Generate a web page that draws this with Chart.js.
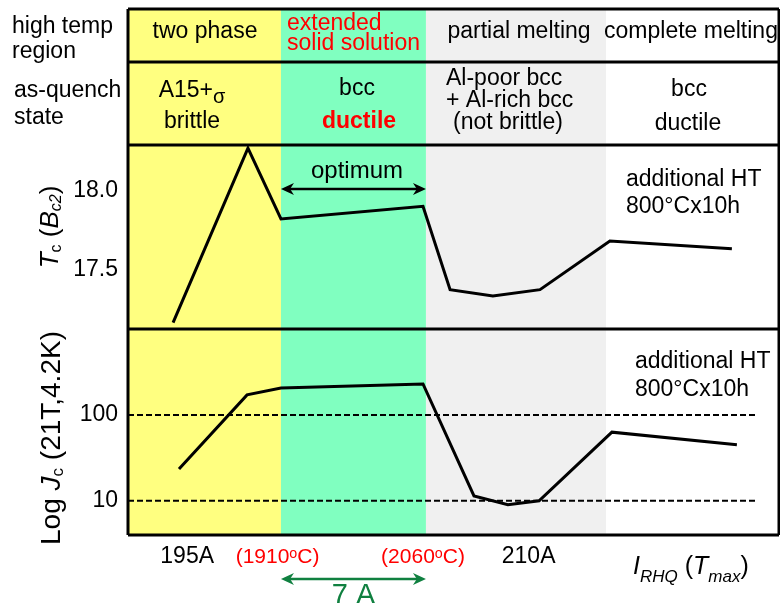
<!DOCTYPE html>
<html>
<head>
<meta charset="utf-8">
<script src="https://cdn.jsdelivr.net/npm/chart.js@4.4.1/dist/chart.umd.min.js"></script>
<style>
  html, body { margin: 0; padding: 0; background: #fff; }
</style>
</head>
<body>
<canvas id="rhq-chart" width="780" height="603"></canvas>
<script>
// RHQ current (A) for each sample, Tc in K, Jc (21T, 4.2K) on a log scale
const tcCurrent = [194.38, 197.67, 199.12, 205.36, 206.55, 208.43, 210.50, 213.57, 218.93];
const tcValues  = [17.16, 18.27, 17.82, 17.90, 17.37, 17.33, 17.37, 17.68, 17.63];
const jcCurrent = [194.64, 197.63, 199.12, 205.36, 207.60, 209.09, 210.46, 213.66, 219.15];
const jcValues  = [23.5, 171, 206, 229, 11.4, 9.0, 10.0, 63, 45];

// dashed reference levels in the Jc panel
const refLevels = [100, 10];
const refRange  = [192.4, 220.03];

const xTickValues = [195, 198.97, 205.36, 210];
const xTickLabels = ['195A', '(1910ᵒC)', '(2060ᵒC)', '210A'];
const tcTicks = [17.5, 18.0];
const jcTicks = [10, 100];

// region boundaries along the current axis
const bandEdges  = [192.4, 199.12, 205.49, 213.4, 221.0];
const bandColors = ['#ffff80', '#80ffc0', '#f0f0f0', '#ffffff'];

const FONT = "'Liberation Sans', Arial, sans-serif";
const f = (size, style) => (style || '') + ' ' + size + 'px ' + FONT;
Chart.defaults.font.family = FONT;
Chart.defaults.color = '#000';

const RED = '#ff0000';
const GREEN = '#108040';

function drawRuns(ctx, parts, x, y, align) {
  let total = 0;
  parts.forEach(p => { ctx.font = p.font; p.w = ctx.measureText(p.t).width; total += p.w; });
  let cx = align === 'center' ? x - total / 2 : x;
  parts.forEach(p => {
    ctx.font = p.font;
    ctx.fillStyle = p.color || '#000';
    ctx.fillText(p.t, cx, y + (p.dy || 0));
    cx += p.w;
  });
}

function text(ctx, t, x, y, font, align, color) {
  ctx.font = font;
  ctx.textAlign = align || 'left';
  ctx.fillStyle = color || '#000';
  ctx.fillText(t, x, y);
}

function arrow(ctx, x0, x1, y, color) {
  const hl = 13, hw = 6;
  ctx.save();
  ctx.strokeStyle = color; ctx.fillStyle = color; ctx.lineWidth = 2.5;
  ctx.beginPath(); ctx.moveTo(x0 + 6, y); ctx.lineTo(x1 - 6, y); ctx.stroke();
  [[x0, 1], [x1, -1]].forEach(([x, d]) => {
    ctx.beginPath();
    ctx.moveTo(x, y);
    ctx.lineTo(x + d * hl, y - hw);
    ctx.lineTo(x + d * hl * 0.7, y);
    ctx.lineTo(x + d * hl, y + hw);
    ctx.closePath();
    ctx.fill();
  });
  ctx.restore();
}

const framePlugin = {
  id: 'frame',
  beforeDraw(chart) {
    const ctx = chart.ctx, xs = chart.scales.x, area = chart.chartArea;
    ctx.save();
    ctx.fillStyle = '#fff';
    ctx.fillRect(0, 0, chart.width, chart.height);
    for (let i = 0; i < bandColors.length; i++) {
      const x0 = xs.getPixelForValue(bandEdges[i]);
      const x1 = Math.min(xs.getPixelForValue(bandEdges[i + 1]), area.right);
      ctx.fillStyle = bandColors[i];
      ctx.fillRect(x0, 9, x1 - x0, area.bottom - 9);
    }
    ctx.restore();
  },
  afterDraw(chart) {
    const ctx = chart.ctx, xs = chart.scales.x, yT = chart.scales.yTc, area = chart.chartArea;
    const edge = i => xs.getPixelForValue(bandEdges[i]);
    ctx.save();

    // frame lines
    ctx.strokeStyle = '#000';
    ctx.lineWidth = 3;
    [9, 62, area.top, yT.bottom, area.bottom].forEach(y => {
      ctx.beginPath(); ctx.moveTo(area.left, y); ctx.lineTo(area.right, y); ctx.stroke();
    });
    [area.left, area.right].forEach(x => {
      ctx.beginPath(); ctx.moveTo(x, 9); ctx.lineTo(x, area.bottom); ctx.stroke();
    });

    ctx.textBaseline = 'middle';
    const h = f(23);

    // row labels
    text(ctx, 'high temp', 12, 27, h);
    text(ctx, 'region', 12, 52, h);
    text(ctx, 'as-quench', 14, 91, h);
    text(ctx, 'state', 14, 118, h);

    // high temp region row
    text(ctx, 'two phase', 205, 32, h, 'center');
    text(ctx, 'extended', 287, 24, h, 'left', RED);
    text(ctx, 'solid solution', 287, 44, h, 'left', RED);
    text(ctx, 'partial melting', 519, 32, h, 'center');
    text(ctx, 'complete melting', 691, 32, h, 'center');

    // as-quench state row
    ctx.textAlign = 'left';
    drawRuns(ctx, [{ t: 'A15+', font: h }, { t: 'σ', font: f(20), dy: 6 }], 192, 91, 'center');
    text(ctx, 'brittle', 192, 122, h, 'center');
    text(ctx, 'bcc', 357, 89, h, 'center');
    text(ctx, 'ductile', 359, 122, f(23, 'bold'), 'center', RED);
    text(ctx, 'Al-poor bcc', 446, 79, h);
    text(ctx, '+ Al-rich bcc', 446, 101, h);
    text(ctx, '(not brittle)', 453, 123, h);
    text(ctx, 'bcc', 689, 90, h, 'center');
    text(ctx, 'ductile', 688, 124, h, 'center');

    // Tc panel notes
    text(ctx, 'optimum', 357, 171, f(24), 'center');
    arrow(ctx, edge(1), edge(2), 189, '#000');
    text(ctx, 'additional HT', 626, 180, h);
    text(ctx, '800°Cx10h', 626, 207, h);

    // Jc panel notes
    text(ctx, 'additional HT', 635, 362, h);
    text(ctx, '800°Cx10h', 635, 390, h);

    // 7 A window
    arrow(ctx, edge(1), edge(2), 579, GREEN);
    ctx.textBaseline = 'alphabetic';
    text(ctx, '7 A', (edge(1) + edge(2)) / 2, 604, f(29), 'center', GREEN);

    // x axis title
    ctx.textAlign = 'left';
    drawRuns(ctx, [
      { t: 'I', font: f(25, 'italic') },
      { t: 'RHQ', font: f(17, 'italic'), dy: 8 },
      { t: ' (', font: f(25) },
      { t: 'T', font: f(25, 'italic') },
      { t: 'max', font: f(17, 'italic'), dy: 8 },
      { t: ')', font: f(25) }
    ], 633, 574, 'left');

    // y axis titles (rotated)
    ctx.textBaseline = 'middle';
    ctx.save();
    ctx.translate(51, 227);
    ctx.rotate(-Math.PI / 2);
    drawRuns(ctx, [
      { t: 'T', font: f(26, 'italic') },
      { t: 'c', font: f(16), dy: 6 },
      { t: ' (', font: f(26) },
      { t: 'B', font: f(26, 'italic') },
      { t: 'c2', font: f(16, 'italic'), dy: 6 },
      { t: ')', font: f(26) }
    ], 0, 0, 'center');
    ctx.restore();

    ctx.save();
    ctx.translate(52, 438);
    ctx.rotate(-Math.PI / 2);
    drawRuns(ctx, [
      { t: 'Log ', font: f(28) },
      { t: 'J', font: f(28, 'italic') },
      { t: 'c', font: f(17), dy: 6 },
      { t: ' (21T,4.2K)', font: f(28) }
    ], 0, 0, 'center');
    ctx.restore();

    ctx.restore();
  }
};

const lineStyle = { borderColor: '#000', borderWidth: 3, pointRadius: 0, tension: 0, fill: false };

new Chart(document.getElementById('rhq-chart'), {
  type: 'line',
  data: {
    datasets: [
      Object.assign({ data: tcCurrent.map((x, i) => ({ x: x, y: tcValues[i] })), yAxisID: 'yTc', order: 0 }, lineStyle),
      Object.assign({ data: jcCurrent.map((x, i) => ({ x: x, y: jcValues[i] })), yAxisID: 'yJc', order: 0 }, lineStyle)
    ].concat(refLevels.map(v => ({
      data: refRange.map(x => ({ x: x, y: v })),
      yAxisID: 'yJc',
      borderColor: '#000',
      borderWidth: 2,
      borderDash: [6, 3],
      pointRadius: 0,
      order: 1
    })))
  },
  options: {
    responsive: false,
    animation: false,
    devicePixelRatio: 1,
    layout: { padding: { top: 145, right: 1, bottom: 0, left: 0 } },
    plugins: { legend: { display: false }, tooltip: { enabled: false } },
    scales: {
      x: {
        type: 'linear', min: 192.4, max: 221.0,
        grid: { display: false, drawTicks: false },
        border: { display: false },
        afterBuildTicks: s => { s.ticks = xTickValues.map(v => ({ value: v })); },
        afterFit: s => { s.height = 68; },
        ticks: {
          autoSkip: false, maxRotation: 0, padding: 8,
          callback: (v, i) => xTickLabels[i],
          color: c => (c.index === 1 || c.index === 2) ? RED : '#000',
          font: c => (c.index === 1 || c.index === 2) ? { size: 21, lineHeight: 1.32 } : { size: 23, lineHeight: 1.2 }
        }
      },
      yTc: {
        type: 'linear', position: 'left', stack: 'panels', stackWeight: 184, weight: 2,
        min: 17.12, max: 18.29,
        grid: { display: false, drawTicks: false },
        border: { display: false },
        afterBuildTicks: s => { s.ticks = tcTicks.map(v => ({ value: v })); },
        afterFit: s => { s.width = 128; },
        ticks: { padding: 10, font: { size: 23 }, callback: v => v.toFixed(1) }
      },
      yJc: {
        type: 'logarithmic', position: 'left', stack: 'panels', stackWeight: 206, weight: 1,
        min: 4, max: 1000,
        grid: { display: false, drawTicks: false },
        border: { display: false },
        afterBuildTicks: s => { s.ticks = jcTicks.map(v => ({ value: v })); },
        afterFit: s => { s.width = 128; },
        ticks: { padding: 10, font: { size: 23 }, callback: v => String(v) }
      }
    }
  },
  plugins: [framePlugin]
});
</script>
</body>
</html>
